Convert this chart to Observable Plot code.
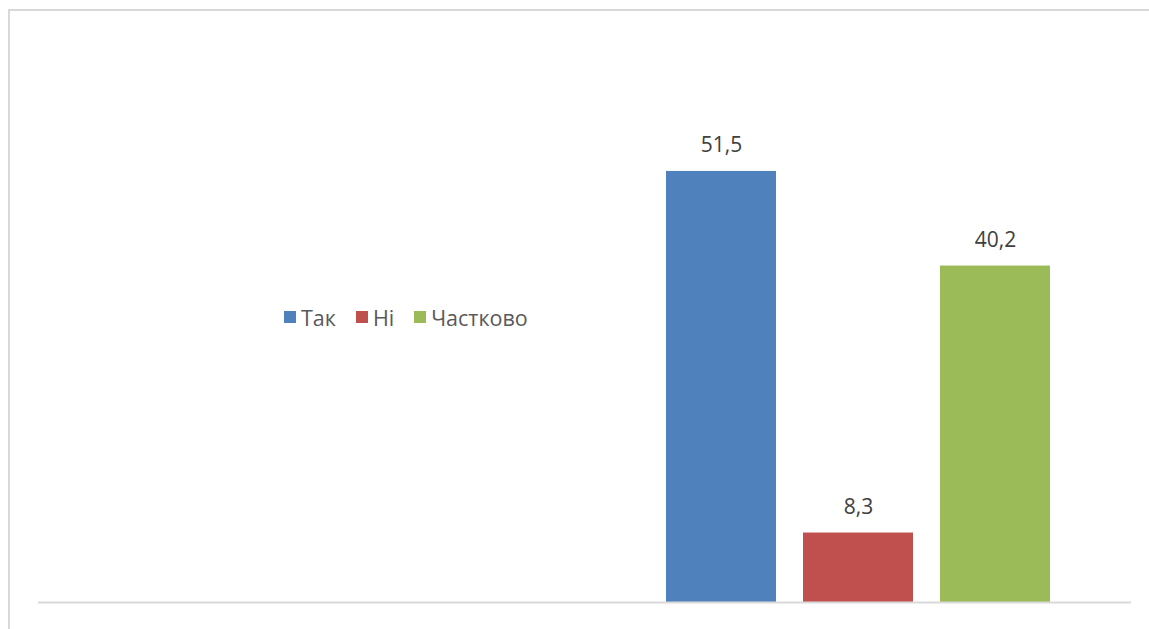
<!DOCTYPE html>
<html>
<head>
<meta charset="utf-8">
<script src="https://cdn.jsdelivr.net/npm/d3@7"></script>
<script src="https://cdn.jsdelivr.net/npm/@observablehq/plot@0.6"></script>
<style>
  html, body { margin: 0; padding: 0; background: #fff; }
  #wrap { position: relative; width: 1149px; height: 629px; overflow: hidden; background: #fff; }
  #frame { position: absolute; left: 8px; top: 9px; width: 1300px; height: 800px; border: 2px solid #d9d9d9; box-sizing: border-box; }
  #chart { position: absolute; left: 0; top: 0; }
  #legend { position: absolute; left: 284px; top: 303px; height: 28px; display: flex; align-items: center;
            font-family: "Open Sans", "Liberation Sans", sans-serif; font-size: 21.5px; color: #595959; }
  #legend .item { display: flex; align-items: center; margin-right: 20px; }
  #legend .sw { width: 12px; height: 12px; margin-right: 5px; }
</style>
</head>
<body>
<div id="wrap">
  <div id="frame"></div>
  <div id="chart"></div>
  <div id="legend"></div>
</div>
<script>
const categories = ["Так", "Ні", "Частково"];
const values = [51.5, 8.3, 40.2];
const labels = ["51,5", "8,3", "40,2"];
const colors = ["#4F81BD", "#C0504D", "#9BBB59"];

const data = categories.map((c, i) => ({category: c, value: values[i], label: labels[i]}));

const chart = Plot.plot({
  width: 1149,
  height: 629,
  marginLeft: 38,
  marginRight: 18,
  marginTop: 20,
  marginBottom: 27,
  style: {background: "transparent", fontFamily: "'Open Sans', 'Liberation Sans', sans-serif"},
  x: {type: "band", domain: categories, range: [666, 1050], paddingInner: 0.2, paddingOuter: 0, axis: null},
  y: {domain: [0, 60], range: [602, 99.8], axis: null},
  color: {domain: categories, range: colors},
  marks: [
    Plot.barY(data, {x: "category", y: "value", fill: "category"}),
    Plot.ruleY([0], {stroke: "#d9d9d9", strokeWidth: 2}),
    Plot.text(data, {x: "category", y: "value", text: "label", dy: -26, lineAnchor: "middle",
                     fontSize: 21, fill: "#404040"})
  ]
});
document.getElementById("chart").appendChild(chart);

const legend = document.getElementById("legend");
categories.forEach((c, i) => {
  const item = document.createElement("div");
  item.className = "item";
  const sw = document.createElement("span");
  sw.className = "sw";
  sw.style.background = colors[i];
  const t = document.createElement("span");
  t.textContent = c;
  item.appendChild(sw);
  item.appendChild(t);
  legend.appendChild(item);
});
</script>
</body>
</html>
